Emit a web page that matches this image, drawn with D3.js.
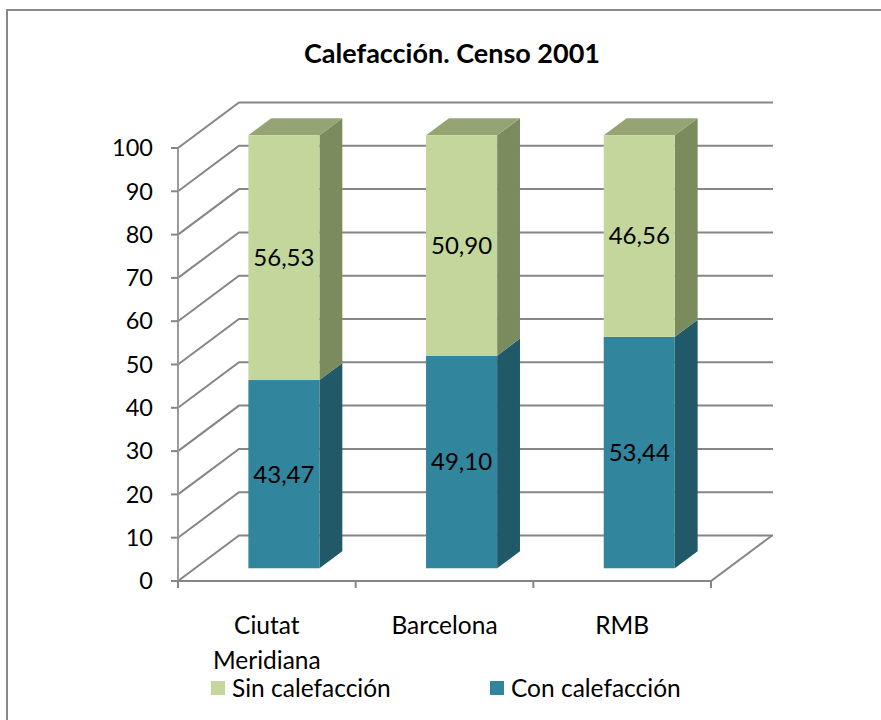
<!DOCTYPE html>
<html><head><meta charset="utf-8">
<script src="https://cdn.jsdelivr.net/npm/d3@7"></script>
<style>body{margin:0;background:#fff}svg{display:block}text{font-family:Lato,"Open Sans",sans-serif}</style>
</head><body>
<svg id="c" width="881" height="720"></svg>
<script>
const title = "Calefacción. Censo 2001";
const categories = [["Ciutat","Meridiana"],["Barcelona"],["RMB"]];
const seriesNames = ["Con calefacción","Sin calefacción"];
const conValues = [43.47, 49.10, 53.44];
const sinValues = [56.53, 50.90, 46.56];
const yTicks = [0,10,20,30,40,50,60,70,80,90,100];

const colors = {
  con: {front:"#31859C", side:"#215968", top:"#2A7286"},
  sin: {front:"#C3D69B", side:"#7A8B5E", top:"#95A472"}
};

const svg = d3.select("#c");
svg.append("rect").attr("width",881).attr("height",720).attr("fill","#fff");
svg.append("path").attr("d","M7,720 L7,10 L881,10").attr("fill","none")
  .attr("stroke","#898989").attr("stroke-width",2);

const DX = 61, DY = 45.5;
const y = d3.scaleLinear().domain([0,100]).range([581,148]);
const x = d3.scaleBand().domain(d3.range(categories.length)).range([178,711]).paddingInner(0).paddingOuter(0);
const P = (px,py,z)=>[px + z*DX, py - z*DY];
const fmt = v => d3.format(".2f")(v).replace(".",",");

const grid = svg.append("g").attr("stroke","#868686").attr("stroke-width",2).attr("fill","none");
yTicks.forEach(t=>{
  const a = P(178,y(t),0), b = P(178,y(t),1), c = P(712,y(t),1);
  grid.append("path").attr("d", d3.line()([a,b,c]));
});
grid.append("path").attr("d", d3.line()([P(178,y(0),0),P(711,y(0),0),P(711,y(0),1)]));
grid.append("line").attr("x1",178).attr("x2",178).attr("y1",y(100)).attr("y2",y(0)).attr("stroke","#9a9a9a");
yTicks.forEach(t=>{
  grid.append("line").attr("x1",171).attr("x2",178).attr("y1",y(t)).attr("y2",y(t));
});
d3.range(categories.length+1).forEach(i=>{
  const xx = 178 + i*x.bandwidth();
  grid.append("line").attr("x1",xx).attr("x2",xx).attr("y1",y(0)).attr("y2",y(0)+7);
});

svg.append("g").selectAll("text").data(yTicks).join("text")
  .attr("x",153).attr("y",d=>y(d)).attr("dy","0.35em").attr("text-anchor","end")
  .attr("font-size",23.5).attr("fill","#000").text(d=>d);

const z0 = 0.28, z1 = 0.655, bw = x.bandwidth()*0.4;
const bars = svg.append("g");
function box(xl, v0, v1, col, drawTop){
  const fb = P(xl, y(v0), z0), ft = P(xl, y(v1), z0);
  const frontX = fb[0], yb = fb[1], yt = ft[1];
  const dx = (z1-z0)*DX, dy = (z1-z0)*DY;
  const wpx = bw;
  bars.append("path").attr("fill",col.side).attr("d", d3.line()([
    [frontX+wpx, yb],[frontX+wpx+dx, yb-dy],[frontX+wpx+dx, yt-dy],[frontX+wpx, yt]]));
  if(drawTop) bars.append("path").attr("fill",col.top).attr("d", d3.line()([
    [frontX, yt],[frontX+dx, yt-dy],[frontX+wpx+dx, yt-dy],[frontX+wpx, yt]]));
  bars.append("rect").attr("x",frontX).attr("y",yt).attr("width",wpx).attr("height",yb-yt).attr("fill",col.front);
  return [frontX + wpx/2, (yb+yt)/2];
}
categories.forEach((c,i)=>{
  const xl = x(i) + (x.bandwidth()-bw)/2;
  const a = box(xl, 0, conValues[i], colors.con, false);
  const b = box(xl, conValues[i], conValues[i]+sinValues[i], colors.sin, true);
  bars.append("text").attr("x",a[0]).attr("y",a[1]).attr("dy","0.35em").attr("text-anchor","middle")
    .attr("font-size",24).text(fmt(conValues[i]));
  bars.append("text").attr("x",b[0]).attr("y",b[1]).attr("dy","0.35em").attr("text-anchor","middle")
    .attr("font-size",24).text(fmt(sinValues[i]));
});

categories.forEach((lines,i)=>{
  const cx = x(i) + x.bandwidth()/2;
  lines.forEach((l,j)=>{
    svg.append("text").attr("x",cx).attr("y",634 + j*35).attr("text-anchor","middle")
      .attr("font-size",24.5).text(l);
  });
});

svg.append("text").attr("x",452).attr("y",63).attr("text-anchor","middle")
  .attr("font-size",27).attr("font-weight","bold").text(title);

const legend = [{name:seriesNames[1], col:colors.sin.front, x:211},{name:seriesNames[0], col:colors.con.front, x:490}];
legend.forEach(l=>{
  svg.append("rect").attr("x",l.x).attr("y",681).attr("width",14).attr("height",14).attr("fill",l.col);
  svg.append("text").attr("x",l.x+21).attr("y",697).attr("font-size",24.5).text(l.name);
});
</script>
</body></html>
